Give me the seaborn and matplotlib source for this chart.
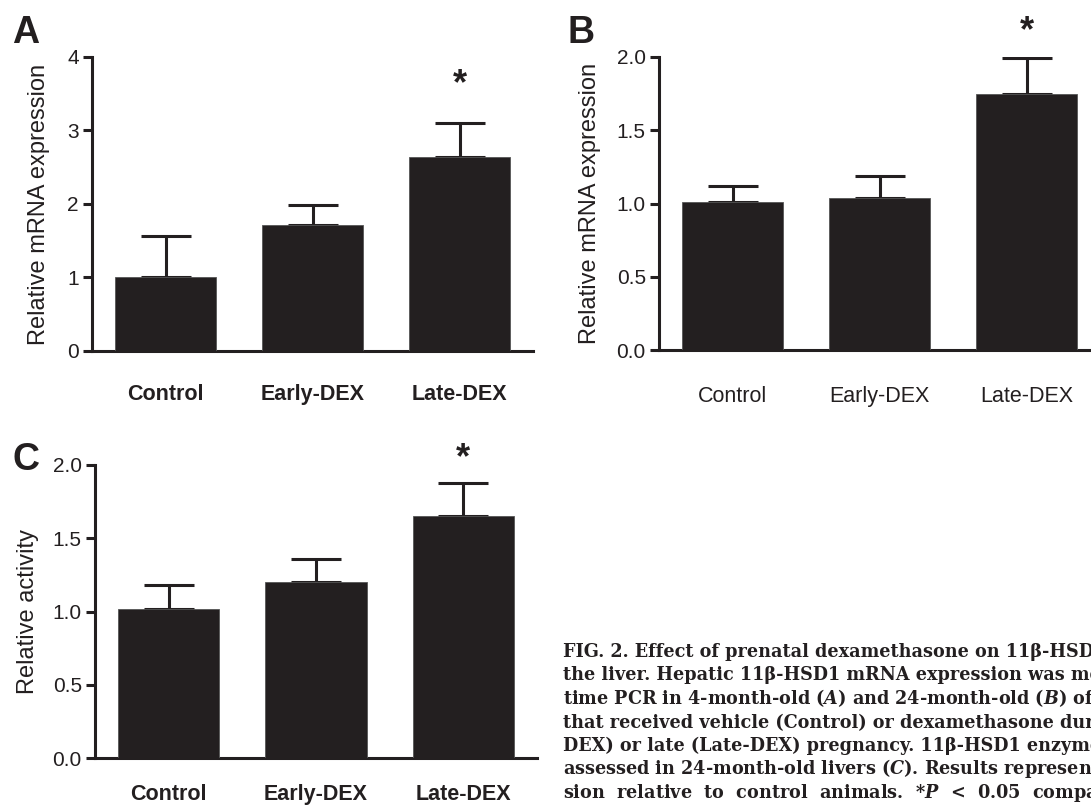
import matplotlib
matplotlib.use("Agg")
import matplotlib.pyplot as plt
import seaborn as sns
import pandas as pd
import numpy as np

# ---- data ----
groups = ["Control", "Early-DEX", "Late-DEX"]
a_mean = [1.01, 1.72, 2.64]
a_sem = [0.56, 0.26, 0.46]
b_mean = [1.01, 1.04, 1.75]
b_sem = [0.11, 0.15, 0.24]
c_mean = [1.02, 1.20, 1.65]
c_sem = [0.16, 0.16, 0.225]
a_ticks = [0, 1, 2, 3, 4]
bc_ticks = [0.0, 0.5, 1.0, 1.5, 2.0]
sig_group = "Late-DEX"

caption_lines = [
    "FIG. 2. Effect of prenatal dexamethasone on 11\u03b2-HSD1 in",
    "the liver. Hepatic 11\u03b2-HSD1 mRNA expression was measured by real-",
    "time PCR in 4-month-old ($\\mathbfit{A}$) and 24-month-old ($\\mathbfit{B}$) offspring of rats",
    "that received vehicle (Control) or dexamethasone during early (Early-",
    "DEX) or late (Late-DEX) pregnancy. 11\u03b2-HSD1 enzyme activity was",
    "assessed in 24-month-old livers ($\\mathbfit{C}$). Results represent mean \u00b1 SEM expres-",
    "sion  relative  to  control  animals.  *$\\mathbfit{P}$  <  0.05  compared  with  control",
    "animals.",
]

sns.set_style("ticks")
plt.rcParams["font.family"] = ["Liberation Sans", "DejaVu Sans"]
plt.rcParams["mathtext.fontset"] = "dejavuserif"

W, H = 1091, 807
fig = plt.figure(figsize=(W / 100, H / 100), dpi=100)

INK = "#231f20"
LW = 2.2


def px_axes(l, r, t, b):
    return fig.add_axes([l / W, 1 - b / H, (r - l) / W, (b - t) / H])


def panel(ax, means, sems, ticks, ylim, ylabel, bold_x, star_y, labelpad, xpad):
    df = pd.DataFrame({"group": groups, "value": means})
    sns.barplot(data=df, x="group", y="value", ax=ax, color=INK, saturation=1,
                width=0.69, errorbar=None, edgecolor="#555555", linewidth=0.6, zorder=3)
    ax.errorbar(np.arange(len(groups)), means,
                yerr=[np.zeros(len(sems)), sems], fmt="none",
                ecolor=INK, elinewidth=LW, capsize=18, capthick=LW, zorder=2)
    ax.set_xlim(-0.5, 2.5)
    ax.set_ylim(*ylim)
    ax.set_yticks(ticks)
    if isinstance(ticks[1], float):
        ax.set_yticklabels([f"{t:.1f}" for t in ticks])
    ax.set_xlabel("")
    ax.set_ylabel(ylabel, fontsize=17, labelpad=labelpad, color=INK)
    for s in ["top", "right"]:
        ax.spines[s].set_visible(False)
    for s in ["left", "bottom"]:
        ax.spines[s].set_linewidth(LW)
        ax.spines[s].set_color(INK)
    ax.tick_params(axis="y", length=6.5, width=LW, color=INK, labelsize=15,
                   pad=3, labelcolor=INK)
    ax.tick_params(axis="x", length=0, pad=xpad, labelsize=15.5, labelcolor=INK)
    for lab in ax.get_xticklabels():
        lab.set_fontweight("bold" if bold_x else "normal")
    ax.text(groups.index(sig_group), star_y, "*", ha="center", va="center",
            fontsize=26, fontweight="bold", color=INK, clip_on=False)


axA = px_axes(92, 533, 57, 351)
panel(axA, a_mean, a_sem, a_ticks, (0, 4), "Relative mRNA expression", True, 3.62, 12.5, 24)

axB = px_axes(659, 1100, 57, 350)
panel(axB, b_mean, b_sem, bc_ticks, (0, 2), "Relative mRNA expression", False, 2.17, 11, 26)

axC = px_axes(95, 537, 465, 758)
panel(axC, c_mean, c_sem, bc_ticks, (0, 2), "Relative activity", True, 2.04, 10, 19)

# panel letters
for letter, x, y in [("A", 12, 43), ("B", 567, 43), ("C", 12, 470)]:
    fig.text(x / W, 1 - y / H, letter, fontsize=27, fontweight="bold",
             color=INK, ha="left", va="baseline")

# caption
for i, line in enumerate(caption_lines):
    fig.text(563 / W, 1 - (657 + 23.5 * i) / H, line, fontsize=12.7,
             family="DejaVu Serif", fontweight="bold", color=INK,
             ha="left", va="baseline")

fig.savefig("out.png", dpi=100)
